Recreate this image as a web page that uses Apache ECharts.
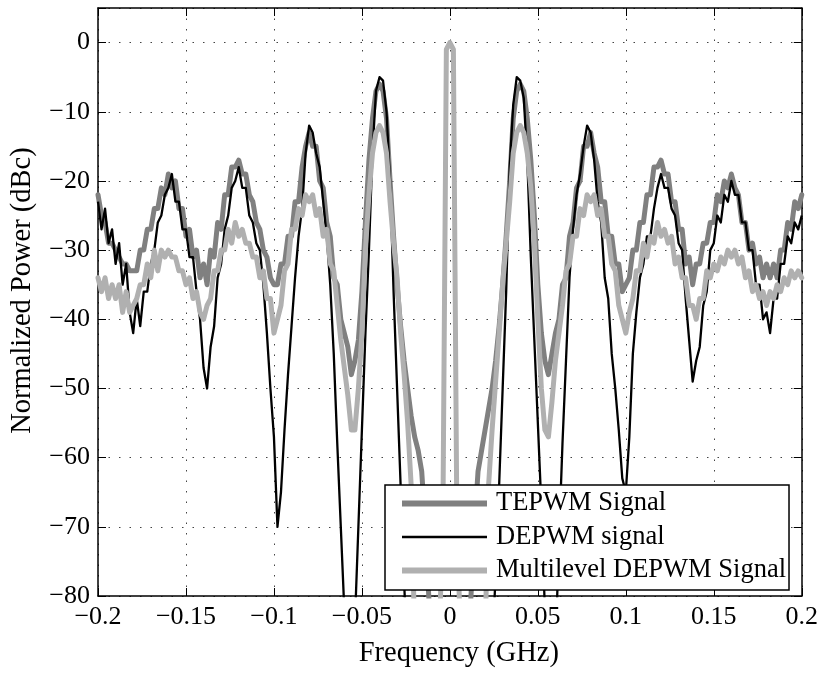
<!DOCTYPE html>
<html>
<head>
<meta charset="utf-8">
<script src="https://cdn.jsdelivr.net/npm/echarts@6/dist/echarts.min.js"></script>
<style>
html,body{margin:0;padding:0;background:#fff;}
#chart{width:821px;height:673px;}
</style>
</head>
<body>
<div id="chart"></div>
<script>
// Frequency sampling grid (GHz): -0.2 .. 0.2, step 0.002
const freqStart = -0.2;
const freqStep = 0.002;
const freqCount = 201;

const seriesNames = ['TEPWM Signal', 'DEPWM signal', 'Multilevel DEPWM Signal'];

const xTickValues = [-0.2, -0.15, -0.1, -0.05, 0, 0.05, 0.1, 0.15, 0.2];
const xTickLabels = ['\u22120.2', '\u22120.15', '\u22120.1', '\u22120.05', '0', '0.05', '0.1', '0.15', '0.2'];
const yTickValues = [-80, -70, -60, -50, -40, -30, -20, -10, 0];
const yTickLabels = ['\u221280', '\u221270', '\u221260', '\u221250', '\u221240', '\u221230', '\u221220', '\u221210', '0'];

// TEPWM Signal (dBc)
const tepwm = [
 -22,-25,-26,-29,-29,-30,-31,-32,-32,-33,
 -33,-33,-30,-30,-27,-27,-24,-24,-21,-22,
 -19,-21,-20,-24,-24,-28,-27,-31,-30,-34,
 -32,-35,-30,-31,-26,-27,-22,-22,-18,-18,
 -17,-19,-19,-22,-23,-26,-27,-30,-31,-34,
 -35,-35,-32,-32,-28,-28,-23,-23,-18,-15,
 -13,-15,-15,-20,-21,-26,-28,-34,-35,-40,
 -42,-44,-48,-46,-43,-36,-26,-17,-11,-7,
 -6,-7,-11,-20,-28,-35,-41,-46,-50,-54,
 -57,-59,-62,-70,-80,-90,-95,-95,-95,-95,
 -95,
 -95,-95,-95,-95,-90,-80,-70,-62,-59,-56,
 -53,-50,-46,-41,-35,-28,-20,-11,-7,-6,
 -7,-11,-17,-25,-35,-42,-46,-48,-45,-42,
 -40,-35,-34,-28,-26,-21,-20,-15,-15,-13,
 -16,-18,-23,-23,-28,-28,-32,-32,-36,-35,
 -34,-30,-30,-26,-26,-22,-22,-18,-18,-17,
 -19,-19,-23,-23,-27,-27,-32,-31,-35,-32,
 -32,-29,-29,-26,-26,-22,-23,-20,-21,-19,
 -21,-22,-26,-26,-30,-29,-32,-31,-34,-32,
 -34,-32,-34,-30,-30,-26,-27,-23,-24,-22
];

// DEPWM signal (dBc)
const depwm = [
 -23,-27,-24,-29,-27,-32,-29,-35,-32,-39,
 -42,-37,-41,-36,-36,-32,-30,-26,-25,-22,
 -21,-19,-23,-23,-27,-27,-31,-31,-36,-40,
 -47,-50,-44,-41,-34,-32,-27,-25,-21,-20,
 -18,-21,-21,-25,-26,-29,-30,-35,-42,-50,
 -57,-70,-65,-56,-48,-41,-34,-28,-24,-16,
 -12,-13,-16,-18,-23,-28,-35,-45,-58,-70,
 -82,-92,-95,-84,-70,-56,-42,-30,-16,-7,
 -5,-5.5,-10,-20,-36,-50,-64,-78,-90,-95,
 -95,-95,-95,-95,-95,-95,-95,-95,-95,-95,
 -95,
 -95,-95,-95,-95,-95,-95,-95,-95,-95,-95,
 -95,-88,-77,-64,-50,-36,-18,-9,-5,-5.5,
 -8,-17,-31,-43,-55,-67,-82,-92,-95,-88,
 -72,-58,-46,-34,-27,-22,-19,-15,-12,-13,
 -17,-23,-26,-34,-37,-45,-50,-56,-63,-65,
 -57,-45,-39,-34,-32,-28,-28,-24,-21,-19,
 -21,-21,-24,-25,-29,-30,-37,-43,-49,-46,
 -44,-38,-36,-30,-29,-25,-26,-22,-23,-20,
 -22,-22,-26,-26,-30,-30,-35,-35,-40,-39,
 -42,-37,-37,-32,-32,-28,-29,-26,-27,-25
];

// Multilevel DEPWM Signal (dBc)
const multilevel = [
 -34,-36,-34,-37,-35,-37,-35,-39,-36,-39,
 -38,-37,-35,-35,-32,-34,-30,-33,-30,-31,
 -30,-31,-31,-33,-33,-35,-34,-37,-36,-39,
 -40,-38,-37,-33,-33,-30,-30,-27,-29,-26,
 -28,-27,-29,-29,-31,-31,-34,-33,-37,-37,
 -42,-40,-38,-33,-32,-27,-27,-24,-25,-22,
 -23,-22,-25,-24,-28,-27,-32,-33,-38,-43,
 -47,-51,-56,-56,-50,-42,-30,-22,-16,-13,
 -12,-13,-16,-23,-29,-34,-42,-48,-55,-64,
 -86,-95,-95,-95,-95,-95,-95,-85,-70,-1,
 0,
 -1,-70,-85,-95,-95,-95,-95,-95,-95,-86,
 -64,-56,-49,-42,-35,-29,-23,-16,-13,-12,
 -13,-16,-21,-29,-40,-50,-56,-57,-52,-46,
 -42,-38,-33,-32,-28,-28,-24,-25,-22,-23,
 -22,-25,-24,-28,-28,-32,-33,-38,-40,-42,
 -39,-37,-33,-33,-29,-31,-28,-29,-26,-28,
 -27,-29,-28,-32,-31,-34,-34,-38,-38,-40,
 -37,-37,-33,-34,-32,-33,-31,-32,-30,-31,
 -30,-32,-31,-34,-33,-36,-35,-37,-36,-38,
 -36,-37,-35,-36,-34,-35,-33,-34,-33,-34
];

const freq = [];
for (let i = 0; i < freqCount; i++) freq.push(+(freqStart + i * freqStep).toFixed(4));
const pairs = (vals) => freq.map((f, i) => [f, vals[i]]);

const FONT = "'Liberation Serif','Times New Roman',serif";

function xFmt(v) {
  for (let i = 0; i < xTickValues.length; i++) if (Math.abs(v - xTickValues[i]) < 1e-9) return xTickLabels[i];
  return '';
}
function yFmt(v) {
  for (let i = 0; i < yTickValues.length; i++) if (Math.abs(v - yTickValues[i]) < 1e-9) return yTickLabels[i];
  return '';
}

const gridLine = {show: true, lineStyle: {color: '#444', type: [1.5, 9], width: 1}};
const axLine = {show: true, onZero: false, lineStyle: {color: '#000', width: 1.5}};
const tick = {show: true, inside: true, length: 8, lineStyle: {color: '#000', width: 1}};

// legend line icons (line thickness inside an 85x14 box)
const thickIcon = 'path://M0,0M85,14M0,4L85,4L85,10L0,10Z';
const thinIcon = 'path://M0,0M85,14M0,5.7L85,5.7L85,8.3L0,8.3Z';

const chart = echarts.init(document.getElementById('chart'), null, {renderer: 'canvas'});
chart.setOption({
  animation: false,
  backgroundColor: '#fff',
  grid: {left: 97, right: 19, top: 8, bottom: 73, containLabel: false},
  xAxis: [
    {type: 'value', min: -0.2, max: 0.2, interval: 0.05, position: 'bottom',
     axisLine: axLine, axisTick: tick, splitLine: gridLine,
     axisLabel: {color: '#000', fontFamily: FONT, fontSize: 26, margin: 8, formatter: xFmt, showMinLabel: true, showMaxLabel: true},
     name: 'Frequency (GHz)', nameLocation: 'middle', nameGap: 43,
     nameTextStyle: {color: '#000', fontFamily: FONT, fontSize: 28.5, padding: [0, 0, 0, 18]}},
    {type: 'value', min: -0.2, max: 0.2, interval: 0.05, position: 'top',
     axisLine: axLine, axisTick: tick, splitLine: {show: false}, axisLabel: {show: false}}
  ],
  yAxis: [
    {type: 'value', min: -80, max: 5, interval: 10, position: 'left',
     axisLine: axLine, axisTick: tick, splitLine: gridLine,
     axisLabel: {color: '#000', fontFamily: FONT, fontSize: 26, margin: 8, formatter: yFmt},
     name: 'Normalized Power (dBc)', nameLocation: 'middle', nameGap: 61, nameRotate: 90,
     nameTextStyle: {color: '#000', fontFamily: FONT, fontSize: 28.5, padding: [0, 0, 0, 23]}},
    {type: 'value', min: -80, max: 5, interval: 10, position: 'right',
     axisLine: axLine, axisTick: tick, splitLine: {show: false}, axisLabel: {show: false}}
  ],
  legend: {
    show: true, orient: 'vertical', left: 385, top: 485,
    padding: [5, 3, 6, 17], itemGap: 6.5, itemWidth: 85, itemHeight: 14,
    backgroundColor: '#fff', borderColor: '#000', borderWidth: 1.5, borderRadius: 0,
    itemStyle: {borderWidth: 0},
    textStyle: {color: '#000', fontFamily: FONT, fontSize: 26.5, padding: [0, 0, 0, 4]},
    data: [
      {name: seriesNames[0], icon: thickIcon},
      {name: seriesNames[1], icon: thinIcon},
      {name: seriesNames[2], icon: thickIcon}
    ]
  },
  series: [
    {name: seriesNames[0], type: 'line', data: pairs(tepwm), symbol: 'none', clip: true,
     lineStyle: {color: '#808080', width: 5, join: 'round', cap: 'round'}, itemStyle: {color: '#808080'}},
    {name: seriesNames[1], type: 'line', data: pairs(depwm), symbol: 'none', clip: true,
     lineStyle: {color: '#000000', width: 2.3, join: 'round'}, itemStyle: {color: '#000000'}},
    {name: seriesNames[2], type: 'line', data: pairs(multilevel), symbol: 'none', clip: true,
     lineStyle: {color: '#b0b0b0', width: 5, join: 'round', cap: 'round'}, itemStyle: {color: '#b0b0b0'}}
  ]
});
</script>
</body>
</html>
